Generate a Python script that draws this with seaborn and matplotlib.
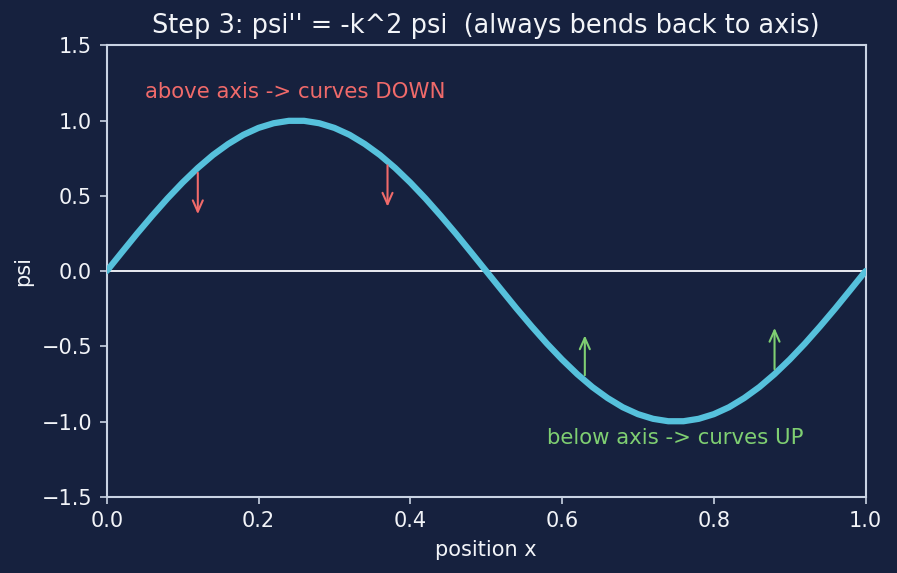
import matplotlib
matplotlib.use("Agg")
import matplotlib.pyplot as plt
import seaborn as sns
import pandas as pd

# ---- data ----
x_pos = [0.00, 0.02, 0.04, 0.06, 0.08, 0.10, 0.12, 0.14, 0.16, 0.18,
         0.20, 0.22, 0.24, 0.26, 0.28, 0.30, 0.32, 0.34, 0.36, 0.38,
         0.40, 0.42, 0.44, 0.46, 0.48, 0.50, 0.52, 0.54, 0.56, 0.58,
         0.60, 0.62, 0.64, 0.66, 0.68, 0.70, 0.72, 0.74, 0.76, 0.78,
         0.80, 0.82, 0.84, 0.86, 0.88, 0.90, 0.92, 0.94, 0.96, 0.98, 1.00]
psi = [0.000, 0.125, 0.249, 0.368, 0.482, 0.588, 0.685, 0.771, 0.844, 0.905,
       0.951, 0.982, 0.998, 0.998, 0.982, 0.951, 0.905, 0.844, 0.771, 0.685,
       0.588, 0.482, 0.368, 0.249, 0.125, 0.000, -0.125, -0.249, -0.368, -0.482,
       -0.588, -0.685, -0.771, -0.844, -0.905, -0.951, -0.982, -0.998, -0.998, -0.982,
       -0.951, -0.905, -0.844, -0.771, -0.685, -0.588, -0.482, -0.368, -0.249, -0.125, 0.000]

down_x = [0.12, 0.37]
down_start = [0.68, 0.73]
down_end = [0.35, 0.40]
up_x = [0.63, 0.88]
up_start = [-0.72, -0.68]
up_end = [-0.40, -0.35]

title = "Step 3: psi'' = -k^2 psi  (always bends back to axis)"
note_above = "above axis -> curves DOWN"
note_below = "below axis -> curves UP"

# ---- style ----
BG = "#16213e"
FG = "#f2f4f8"
SPINE = "#c9d3e3"
CURVE = "#56c1dc"
RED = "#f06a6a"
GREEN = "#7fcf72"

sns.set_theme(style="dark")
plt.rcParams["font.family"] = ["DejaVu Sans"]

fig = plt.figure(figsize=(5.98, 3.82), dpi=150, facecolor=BG)
ax = fig.add_axes([0.119, 0.133, 0.846, 0.788])
ax.set_facecolor(BG)

df = pd.DataFrame({"x": x_pos, "psi": psi})
sns.lineplot(data=df, x="x", y="psi", ax=ax, color=CURVE, lw=3, zorder=3)
ax.axhline(0, color=FG, lw=0.9, zorder=2)

astyle = "->,head_length=0.45,head_width=0.2"
for xv, s, e in zip(down_x, down_start, down_end):
    ax.annotate("", xy=(xv, e), xytext=(xv, s),
                arrowprops=dict(arrowstyle=astyle, color=RED, lw=1.0), zorder=4)
for xv, s, e in zip(up_x, up_start, up_end):
    ax.annotate("", xy=(xv, e), xytext=(xv, s),
                arrowprops=dict(arrowstyle=astyle, color=GREEN, lw=1.0), zorder=4)

ax.text(0.05, 1.15, note_above, color=RED, fontsize=10.2)
ax.text(0.58, -1.15, note_below, color=GREEN, fontsize=10.2)

ax.set_xlim(0, 1)
ax.set_ylim(-1.5, 1.5)
ax.set_xticks([0.0, 0.2, 0.4, 0.6, 0.8, 1.0])
ax.set_yticks([-1.5, -1.0, -0.5, 0.0, 0.5, 1.0, 1.5])
ax.set_xlabel("position x", color=FG, fontsize=10)
ax.set_ylabel("psi", color=FG, fontsize=10)
ax.set_title(title, color=FG, fontsize=12.3)
ax.tick_params(colors=FG, labelsize=10, length=3.5, width=0.8, bottom=True, left=True, color=SPINE)
for sp in ax.spines.values():
    sp.set_visible(True)
    sp.set_color(SPINE)
    sp.set_linewidth(1.0)
ax.grid(False)

fig.savefig("out.png", dpi=150, facecolor=BG)
